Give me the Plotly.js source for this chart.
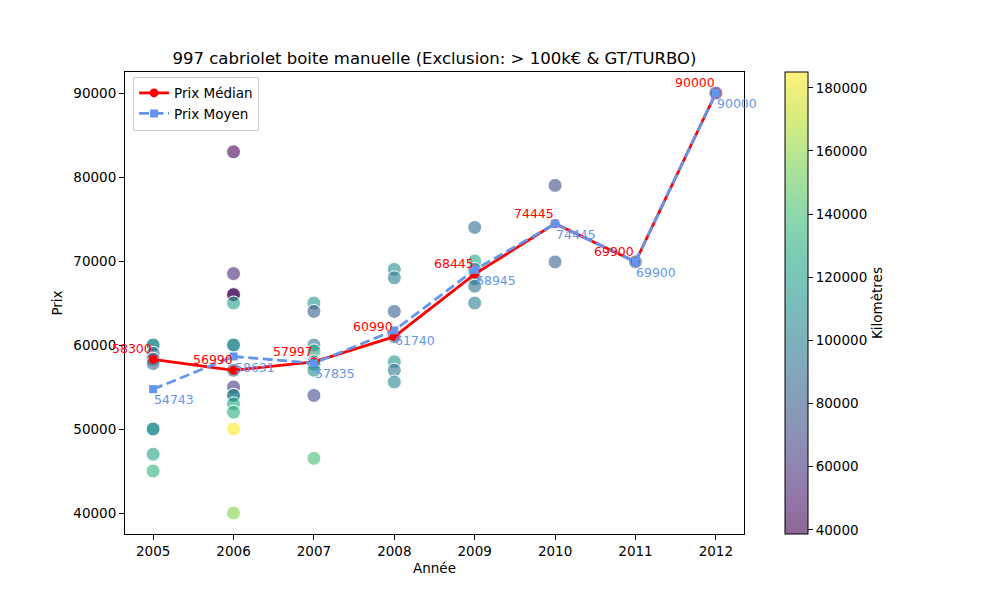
<!DOCTYPE html>
<html>
<head>
<meta charset="utf-8">
<script src="https://cdn.plot.ly/plotly-3.0.1.min.js"></script>
<style>html,body{margin:0;padding:0;background:#fff;}#chart{width:1000px;height:600px;}</style>
</head>
<body>
<div id="chart"></div>
<script>
// ---- data ----
const years = [2005, 2006, 2007, 2008, 2009, 2010, 2011, 2012];
const medianPrice = [58300, 56990, 57997, 60990, 68445, 74445, 69900, 90000];
const meanPrice = [54743, 58631, 57835, 61740, 68945, 74445, 69900, 90000];

// individual listings: year, price, kilometres
const carYear = [
  2005, 2005, 2005, 2005, 2005, 2005, 2005, 2005, 2005,
  2006, 2006, 2006, 2006, 2006, 2006, 2006, 2006, 2006, 2006, 2006, 2006, 2006, 2006, 2006,
  2007, 2007, 2007, 2007, 2007, 2007, 2007, 2007, 2007,
  2008, 2008, 2008, 2008, 2008, 2008, 2008,
  2009, 2009, 2009, 2009, 2009, 2009,
  2010, 2010,
  2011,
  2012
];
const carPrice = [
  60000, 60000, 59000, 58300, 57800, 50000, 50000, 47000, 45000,
  83000, 68500, 66000, 66000, 65000, 60000, 60000, 56990, 55000, 54000, 54000, 53000, 52000, 50000, 40000,
  65000, 64000, 60000, 59300, 57997, 57700, 57000, 54000, 46500,
  69000, 68000, 64000, 60990, 58000, 57000, 55600,
  74000, 70000, 69000, 67890, 67000, 65000,
  79000, 69890,
  69900,
  90000
];
const carKm = [
  108000, 112000, 90000, 85000, 88000, 105000, 110000, 122000, 132000,
  38700, 55000, 45000, 42000, 120000, 100000, 108000, 85000, 62000, 95000, 100000, 125000, 130000, 185000, 158000,
  115000, 80000, 95000, 125000, 90000, 105000, 110000, 70000, 140000,
  110000, 100000, 82000, 95000, 115000, 95000, 105000,
  90000, 125000, 100000, 95000, 95000, 100000,
  70000, 85000,
  90000,
  60000
];
const cbTicks = [40000, 60000, 80000, 100000, 120000, 140000, 160000, 180000];

// viridis with alpha 0.6
const viridis = ['#440154','#482475','#414487','#355f8d','#2a788e','#21918c','#22a884','#44bf70','#7ad151','#bddf26','#fde725'];
function hexToRgba(h, a){
  const r = parseInt(h.slice(1,3),16), g = parseInt(h.slice(3,5),16), b = parseInt(h.slice(5,7),16);
  return 'rgba(' + r + ',' + g + ',' + b + ',' + a + ')';
}
const cscale = viridis.map((c, i) => [i / (viridis.length - 1), hexToRgba(c, 0.6)]);

const FONT = 'DejaVu Sans, sans-serif';
const RED = '#ff0000';
const BLUE = '#6495ED';

const traces = [
  {
    type: 'scatter', mode: 'markers', x: carYear, y: carPrice, showlegend: false, hoverinfo: 'skip',
    marker: {
      size: 14, color: carKm, colorscale: cscale,
      cmin: Math.min.apply(null, carKm), cmax: Math.max.apply(null, carKm),
      line: {color: '#ffffff', width: 1},
      colorbar: {
        x: 1.066, xanchor: 'left', xpad: 0, ypad: 0, y: 0.5, yanchor: 'middle',
        len: 1, lenmode: 'fraction', thickness: 23, thicknessmode: 'pixels',
        outlinecolor: '#000', outlinewidth: 1,
        ticks: 'outside', ticklen: 5, tickcolor: '#000', tickvals: cbTicks, tickformat: 'd',
        tickfont: {family: FONT, size: 13.5, color: '#000'},
        title: {text: 'Kilomètres', side: 'right', font: {family: FONT, size: 13.5, color: '#000'}}
      }
    }
  },
  {
    type: 'scatter', mode: 'lines+markers', name: 'Prix Médian', x: years, y: medianPrice,
    line: {color: RED, width: 2.8}, marker: {symbol: 'circle', size: 9, color: RED}
  },
  {
    type: 'scatter', mode: 'lines+markers', name: 'Prix Moyen', x: years, y: meanPrice,
    line: {color: BLUE, width: 2.8, dash: '10px,4.5px'}, marker: {symbol: 'square', size: 8, color: BLUE}
  }
];

const annotations = [];
years.forEach((yr, i) => {
  annotations.push({x: yr, y: medianPrice[i], xref: 'x', yref: 'y', text: String(medianPrice[i]),
    showarrow: false, xanchor: 'right', yanchor: 'bottom', xshift: 1, yshift: 1,
    font: {family: FONT, size: 12.5, color: RED}});
  annotations.push({x: yr, y: meanPrice[i], xref: 'x', yref: 'y', text: String(meanPrice[i]),
    showarrow: false, xanchor: 'left', yanchor: 'top', xshift: -1, yshift: -1,
    font: {family: FONT, size: 12.5, color: BLUE}});
});

const axisCommon = {
  showline: true, mirror: true, linecolor: '#000', linewidth: 1,
  ticks: 'outside', ticklen: 5, tickcolor: '#000', showgrid: false, zeroline: false,
  tickfont: {family: FONT, size: 13.5, color: '#000'}, tickformat: 'd'
};

const layout = {
  width: 1000, height: 600,
  margin: {l: 125, r: 256, t: 72, b: 66},
  paper_bgcolor: '#fff', plot_bgcolor: '#fff',
  font: {family: FONT, color: '#000'},
  title: {text: '997 cabriolet boite manuelle (Exclusion: &gt; 100k€ &amp; GT/TURBO)',
    x: 0.5, xanchor: 'center', xref: 'paper', y: 1 - 58/600, yanchor: 'middle', yref: 'container',
    font: {family: FONT, size: 16.5, color: '#000'}},
  xaxis: Object.assign({}, axisCommon, {range: [2004.65, 2012.35], tickvals: years,
    title: {text: 'Année', font: {family: FONT, size: 13.5, color: '#000'}, standoff: 5}}),
  yaxis: Object.assign({}, axisCommon, {range: [37500, 92500], dtick: 10000, tick0: 0,
    title: {text: 'Prix', font: {family: FONT, size: 13.5, color: '#000'}, standoff: 7}}),
  legend: {x: 0.013, y: 0.99, xanchor: 'left', yanchor: 'top', bgcolor: 'rgba(255,255,255,0.8)',
    bordercolor: '#cccccc', borderwidth: 1, font: {family: FONT, size: 13.5, color: '#000'}},
  annotations: annotations,
  showlegend: true
};

Plotly.newPlot('chart', traces, layout, {displayModeBar: false, staticPlot: true});
</script>
</body>
</html>
